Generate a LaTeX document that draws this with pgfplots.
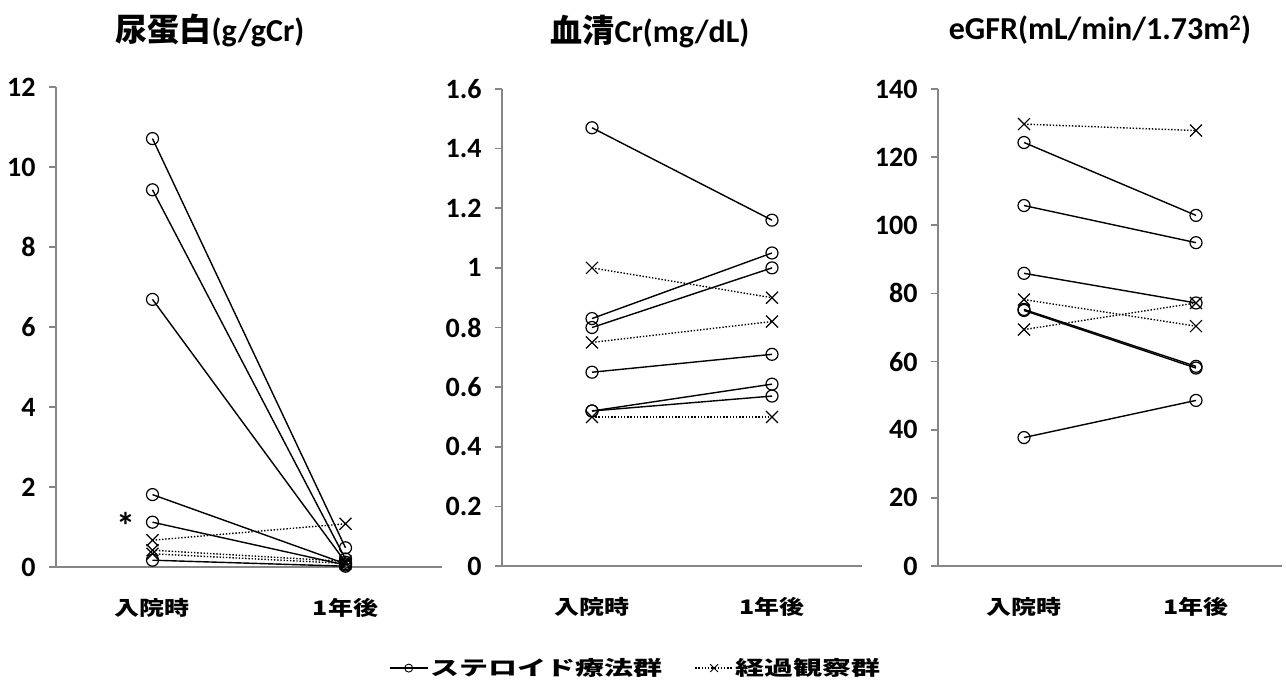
\documentclass[border=0pt]{standalone}
\usepackage{pgfplots}
\pgfplotsset{compat=1.18}
\usepackage{graphicx}
\usepackage{fontspec}
\setmainfont{Carlito}
\newfontfamily\cjk{Noto Sans CJK JP}
\definecolor{axgray}{RGB}{134,134,134}
\newcommand\catlab[1]{\scalebox{1.25}[1]{\cjk\bfseries #1}}
\newcommand\leglab[1]{\scalebox{1.45}[1]{\cjk\bfseries #1}}
\pgfplotsset{
  panel/.style={
    scale only axis,
    axis lines*=left,
    axis line style={draw=axgray, line width=1.6pt, -},
    xmin=-0.5, xmax=1.5,
    xtick={0,1},
    xticklabels={\catlab{入院時},\catlab{1年後}},
    xtick style={draw=none},
    xticklabel style={anchor=center, yshift=-34pt, font=\fontsize{20}{20}\selectfont},
    ytick style={draw=axgray, line width=1.6pt},
    tick align=outside,
    major tick length=7pt,
    yticklabel style={font=\fontsize{28}{28}\selectfont\bfseries, anchor=east, xshift=-10pt},
    /pgf/number format/assume math mode=true,
    clip=false,
  },
  steroid/.style={black, line width=1.4pt, mark=o, mark size=6pt, mark options={solid, line width=1.2pt}},
  obs/.style={black, line width=1.4pt, dash pattern=on 1.4pt off 1.8pt, mark=x, mark size=8.5pt, mark options={solid, line width=1.2pt}},
}
\begin{document}
\begin{tikzpicture}
\path[use as bounding box] (0pt,0pt) rectangle (1286pt,-688pt);

% Panel 1: urinary protein
\begin{axis}[panel, at={(56pt,-567pt)}, anchor=south west, width=386pt, height=480pt,
  ymin=0, ymax=12, ytick={0,2,4,6,8,10,12}]
\addplot[steroid] coordinates {(0,10.71) (1,0.48)};
\addplot[steroid] coordinates {(0,9.43) (1,0.20)};
\addplot[steroid] coordinates {(0,6.69) (1,0.12)};
\addplot[steroid] coordinates {(0,1.81) (1,0.08)};
\addplot[steroid] coordinates {(0,1.12) (1,0.05)};
\addplot[steroid] coordinates {(0,0.17) (1,0.02)};
\addplot[obs] coordinates {(0,0.67) (1,1.08)};
\addplot[obs] coordinates {(0,0.42) (1,0.14)};
\addplot[obs] coordinates {(0,0.33) (1,0.09)};
\node[font=\fontsize{38}{38}\selectfont\bfseries] at (axis cs:-0.14,1.03) {*};
\end{axis}

% Panel 2: serum Cr
\begin{axis}[panel, at={(502pt,-566pt)}, anchor=south west, width=360pt, height=477pt,
  ymin=0, ymax=1.6, ytick={0,0.2,0.4,0.6,0.8,1,1.2,1.4,1.6},
  yticklabel style={/pgf/number format/fixed},
  legend style={at={(0.372,-0.214)}, anchor=center, draw=none, fill=none,
    legend columns=2, font=\fontsize{20}{20}\selectfont,
    /tikz/every even column/.append style={column sep=30pt}},
  legend image code/.code={\draw[mark repeat=2, mark phase=2, #1] plot coordinates {(0pt,0pt) (19pt,0pt) (38pt,0pt)};}]
\addlegendimage{steroid, mark size=4pt, mark options={solid, line width=0.9pt}}
\addlegendentry{\leglab{ステロイド療法群}}
\addlegendimage{obs, mark size=5.5pt, mark options={solid, line width=0.9pt}}
\addlegendentry{\leglab{経過観察群}}
\addplot[steroid] coordinates {(0,1.47) (1,1.16)};
\addplot[steroid] coordinates {(0,0.83) (1,1.05)};
\addplot[steroid] coordinates {(0,0.80) (1,1.00)};
\addplot[steroid] coordinates {(0,0.65) (1,0.71)};
\addplot[steroid] coordinates {(0,0.52) (1,0.61)};
\addplot[steroid] coordinates {(0,0.52) (1,0.57)};
\addplot[obs] coordinates {(0,1.00) (1,0.90)};
\addplot[obs] coordinates {(0,0.75) (1,0.82)};
\addplot[obs] coordinates {(0,0.50) (1,0.50)};
\end{axis}

% Panel 3: eGFR
\begin{axis}[panel, at={(938pt,-566pt)}, anchor=south west, width=344pt, height=477pt,
  ymin=0, ymax=140, ytick={0,20,40,60,80,100,120,140}]
\addplot[steroid] coordinates {(0,124.3) (1,102.9)};
\addplot[steroid] coordinates {(0,105.8) (1,94.9)};
\addplot[steroid] coordinates {(0,85.9) (1,77.2)};
\addplot[steroid] coordinates {(0,75.3) (1,58.6)};
\addplot[steroid] coordinates {(0,75.0) (1,58.1)};
\addplot[steroid] coordinates {(0,37.7) (1,48.6)};
\addplot[obs] coordinates {(0,129.7) (1,127.8)};
\addplot[obs] coordinates {(0,78.2) (1,70.4)};
\addplot[obs] coordinates {(0,69.4) (1,77.2)};
\end{axis}

% titles
\node[font=\fontsize{32}{32}\selectfont\bfseries] at (210pt,-30pt) {{\cjk 尿蛋白}(g/gCr)};
\node[font=\fontsize{32}{32}\selectfont\bfseries] at (650pt,-32pt) {{\cjk 血清}Cr(mg/dL)};
\node[font=\fontsize{32}{32}\selectfont\bfseries] at (1100pt,-30pt) {eGFR(mL/min/1.73m\textsuperscript{2})};
\end{tikzpicture}
\end{document}
